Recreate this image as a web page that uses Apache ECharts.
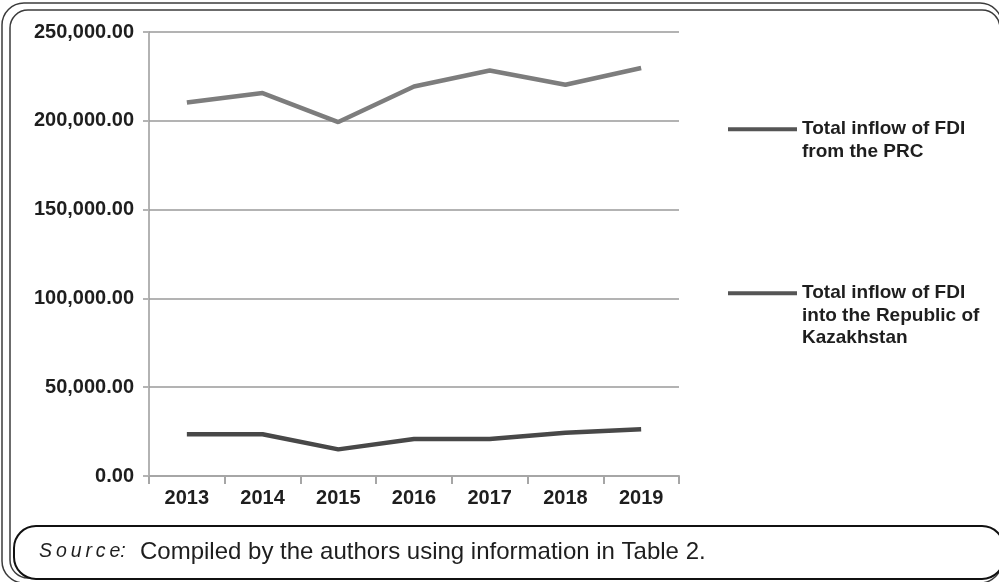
<!DOCTYPE html>
<html>
<head>
<meta charset="utf-8">
<script src="https://cdn.jsdelivr.net/npm/echarts@6/dist/echarts.min.js"></script>
<style>
  html, body { margin: 0; padding: 0; background: #ffffff; }
  #chart { width: 999px; height: 582px; }
</style>
</head>
<body>
<div id="chart"></div>
<script>
// Years on the horizontal axis
const years = ['2013', '2014', '2015', '2016', '2017', '2018', '2019'];

// Total inflow of FDI from the PRC
const fdiFromPRC = [210300, 215600, 199300, 219300, 228300, 220300, 229700];

// Total inflow of FDI into the Republic of Kazakhstan
const fdiIntoKazakhstan = [23500, 23500, 15000, 20800, 20800, 24400, 26300];

// Series names as shown in the legend
const nameFromPRC = 'Total inflow of FDI\nfrom the PRC';
const nameIntoKZ = 'Total inflow of FDI\ninto the Republic of\nKazakhstan';

// Value axis range
const yMin = 0;
const yMax = 250000;
const yStep = 50000;

const sourceLabel = 'S\u2009o\u2009u\u2009r\u2009c\u2009e:';
const sourceText = 'Compiled by the authors using information in Table 2.';

const FONT = '"Liberation Sans", Arial, sans-serif';
const LEGEND_LH = 22.5;
const ICON_W = 69;

// Legend key: a short bar at the top of the item box, so that the bar
// lines up with the first line of a multi-line label (labels are centred
// on the item box). A tiny mark at the bottom fixes the box height.
function keyIcon(lines) {
  const h = (lines - 1) * LEGEND_LH + 4;
  return {
    h: h,
    path: 'path://M0,0H' + ICON_W + 'V4H0Z M0,' + (h - 0.05) + 'H0.01V' + h + 'H0Z'
  };
}
const key2 = keyIcon(2);
const key3 = keyIcon(3);

const chart = echarts.init(document.getElementById('chart'), null, { renderer: 'canvas' });

const legendText = {
  fontFamily: FONT,
  fontWeight: 'bold',
  fontSize: 19,
  lineHeight: LEGEND_LH,
  color: '#1e1e1e'
};

chart.setOption({
  animation: false,
  backgroundColor: '#ffffff',
  grid: { left: 149, top: 32, width: 530, bottom: 106, containLabel: false },
  legend: [
    {
      left: 728, top: 118, padding: 0,
      orient: 'vertical',
      selectedMode: false,
      icon: key2.path,
      itemWidth: ICON_W,
      itemHeight: key2.h,
      itemStyle: { color: '#555555', borderWidth: 0 },
      textStyle: legendText,
      data: [nameFromPRC]
    },
    {
      left: 728, top: 282, padding: 0,
      orient: 'vertical',
      selectedMode: false,
      icon: key3.path,
      itemWidth: ICON_W,
      itemHeight: key3.h,
      itemStyle: { color: '#555555', borderWidth: 0 },
      textStyle: legendText,
      data: [nameIntoKZ]
    }
  ],
  xAxis: {
    type: 'category',
    data: years,
    boundaryGap: true,
    axisLine: { lineStyle: { color: '#a6a6a6', width: 2 } },
    axisTick: { show: true, length: 8, inside: false, lineStyle: { color: '#a6a6a6', width: 2 } },
    axisLabel: {
      margin: 12,
      fontFamily: FONT,
      fontWeight: 'bold',
      fontSize: 20,
      color: '#1e1e1e'
    },
    splitLine: { show: false }
  },
  yAxis: {
    type: 'value',
    min: yMin,
    max: yMax,
    interval: yStep,
    axisLine: { show: true, lineStyle: { color: '#9a9a9a', width: 1.5 } },
    axisTick: { show: true, length: 6, lineStyle: { color: '#b3b3b3', width: 2 } },
    axisLabel: {
      margin: 15,
      fontFamily: FONT,
      fontWeight: 'bold',
      fontSize: 20,
      color: '#1e1e1e',
      formatter: v => v.toLocaleString('en-US', { minimumFractionDigits: 2, maximumFractionDigits: 2 })
    },
    splitLine: { show: true, lineStyle: { color: '#b3b3b3', width: 2 } }
  },
  series: [
    {
      name: nameFromPRC,
      type: 'line',
      data: fdiFromPRC,
      showSymbol: false,
      symbol: 'none',
      lineStyle: { color: '#7d7d7d', width: 4.5 },
      itemStyle: { color: '#7d7d7d' },
      z: 3
    },
    {
      name: nameIntoKZ,
      type: 'line',
      data: fdiIntoKazakhstan,
      showSymbol: false,
      symbol: 'none',
      lineStyle: { color: '#484848', width: 4.5 },
      itemStyle: { color: '#484848' },
      z: 3
    }
  ],
  graphic: [
    // double rounded frame around the figure
    {
      type: 'rect', silent: true,
      shape: { x: 2, y: 3, width: 1000, height: 580, r: 22 },
      style: { fill: null, stroke: '#3c3c3c', lineWidth: 1.5 }
    },
    {
      type: 'rect', silent: true,
      shape: { x: 10, y: 10, width: 990, height: 568, r: 18 },
      style: { fill: null, stroke: '#3c3c3c', lineWidth: 1.5 }
    },
    // source caption box
    {
      type: 'rect', silent: true,
      shape: { x: 14, y: 526, width: 990, height: 53, r: 22 },
      style: { fill: '#ffffff', stroke: '#111111', lineWidth: 2 }
    },
    {
      type: 'text', silent: true,
      left: 39, top: 542,
      style: {
        text: sourceLabel,
        font: 'italic 19.5px ' + FONT,
        fill: '#1e1e1e'
      }
    },
    {
      type: 'text', silent: true,
      left: 140, top: 540,
      style: {
        text: sourceText,
        font: '24px ' + FONT,
        fill: '#1e1e1e'
      }
    }
  ]
});
</script>
</body>
</html>
